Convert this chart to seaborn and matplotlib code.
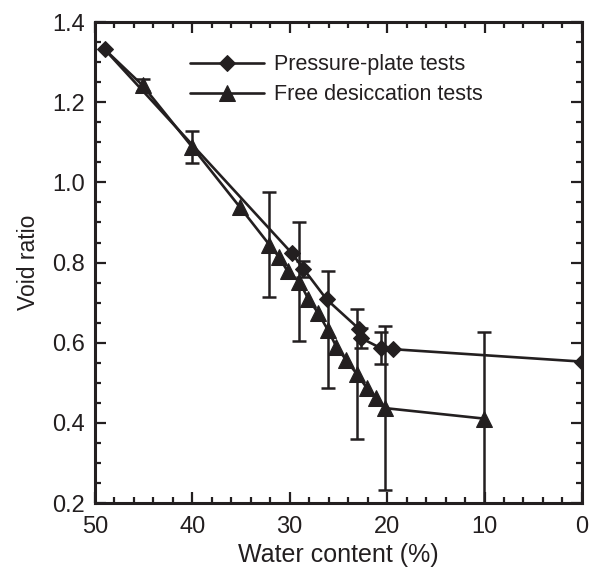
import numpy as np
import pandas as pd
import seaborn as sns
import matplotlib.pyplot as plt
from matplotlib.ticker import MultipleLocator

sns.set_style('ticks')
plt.rcParams['font.family'] = ['Liberation Sans', 'DejaVu Sans']
INK = '#231f20'

# Pressure-plate tests (diamonds)
pp_water = [49.0, 29.8, 28.6, 26.2, 22.9, 22.7, 20.6, 19.4, 0.0]
pp_void = [1.332, 0.824, 0.785, 0.708, 0.635, 0.612, 0.586, 0.584, 0.553]
pp_err = [0, 0, 0.02, 0, 0, 0.024, 0.04, 0, 0]

# Free desiccation tests (triangles); first point shares the diamond start
fd_water = [49.0, 45.1, 40.0, 35.1, 32.1, 31.1, 30.2, 29.0, 28.1, 27.1, 26.1,
            25.2, 24.2, 23.1, 22.1, 21.1, 20.2, 10.1]
fd_void = [1.332, 1.242, 1.088, 0.938, 0.845, 0.814, 0.778, 0.752, 0.710, 0.675, 0.633,
           0.590, 0.557, 0.522, 0.488, 0.463, 0.437, 0.411]
fd_err = [0, 0.015, 0.04, 0, 0.132, 0, 0, 0.148, 0, 0, 0.146,
          0, 0, 0.163, 0, 0, 0.204, 0.216]

pp = pd.DataFrame({'w': pp_water, 'e': pp_void, 'err': pp_err})
fd = pd.DataFrame({'w': fd_water, 'e': fd_void, 'err': fd_err})

fig = plt.figure(figsize=(5.89, 5.79), dpi=100)
ax = fig.add_axes([0.161, 0.131, 0.827, 0.831])

# error bars first, markers on top
for d in (fd, pp):
    sub = d[d['err'] > 0]
    ax.errorbar(sub['w'], sub['e'], yerr=sub['err'], fmt='none', ecolor=INK,
                elinewidth=1.8, capsize=5, capthick=1.8, zorder=2)

sns.lineplot(data=fd, x='w', y='e', sort=False, estimator=None, ax=ax,
             color=INK, lw=1.9, marker='^', markersize=11, markevery=slice(1, None),
             markeredgecolor=INK, label='Free desiccation tests', zorder=3)
sns.lineplot(data=pp, x='w', y='e', sort=False, estimator=None, ax=ax,
             color=INK, lw=1.9, marker='D', markersize=8.5,
             markeredgecolor=INK, label='Pressure-plate tests', zorder=4)

ax.set_xlim(50, 0)
ax.set_ylim(0.2, 1.4)
ax.xaxis.set_major_locator(MultipleLocator(10))
ax.xaxis.set_minor_locator(MultipleLocator(2))
ax.yaxis.set_major_locator(MultipleLocator(0.2))
ax.yaxis.set_minor_locator(MultipleLocator(0.05))
ax.yaxis.set_major_formatter(plt.FormatStrFormatter('%.1f'))

ax.tick_params(which='both', direction='in', top=True, right=True,
               colors=INK, labelsize=17, width=1.6)
ax.tick_params(which='major', length=8)
ax.tick_params(axis='x', which='major', pad=9)
ax.tick_params(axis='y', which='major', pad=7)
ax.tick_params(which='minor', length=4)
for s in ax.spines.values():
    s.set_linewidth(2.2)
    s.set_color(INK)

ax.set_xlabel('Water content (%)', fontsize=18, color=INK, labelpad=4)
ax.set_ylabel('Void ratio', fontsize=16.5, color=INK, labelpad=9)

h, l = ax.get_legend_handles_labels()
ax.legend(h[::-1], l[::-1], loc='upper left', bbox_to_anchor=(0.174, 0.955),
          frameon=False, fontsize=15.5, handlelength=3.4, handletextpad=0.5,
          labelspacing=0.42, borderpad=0, labelcolor=INK)

fig.savefig('out.png', dpi=100)
